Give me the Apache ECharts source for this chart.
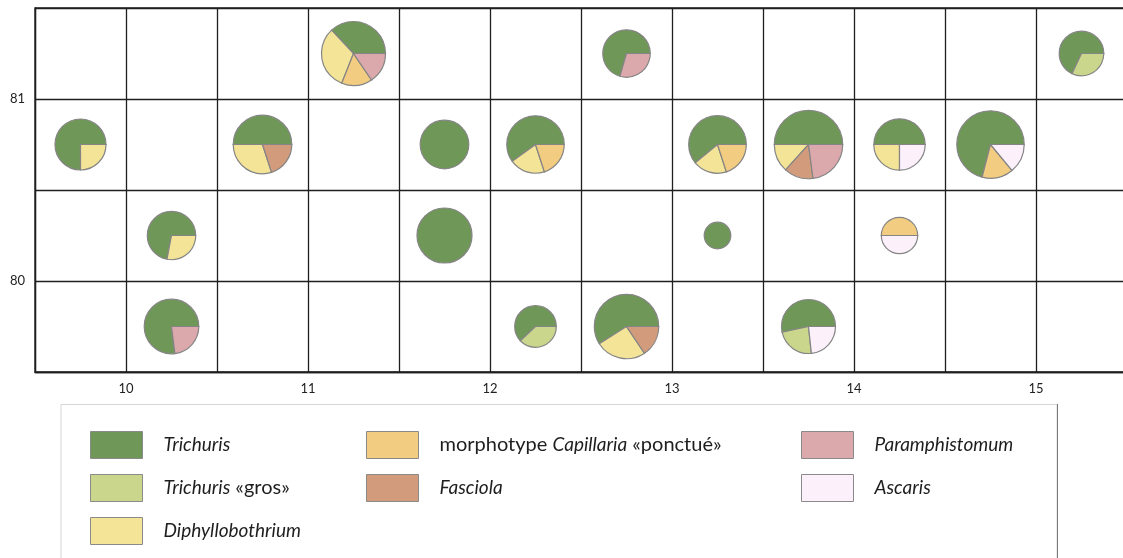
<!DOCTYPE html>
<html><head><meta charset="utf-8">
<script src="https://cdn.jsdelivr.net/npm/echarts@6/dist/echarts.min.js"></script>
<style>html,body{margin:0;padding:0;background:#fff}#c{width:1123px;height:558px}</style>
</head><body><div id="c"></div>
<script>
// cell centres (x, y) of each pie
const cellX = [9.75, 10.75, 11.25, 11.75, 12.25, 12.75, 13.25, 13.75, 14.25, 14.75, 15.25, 10.25, 10.25, 11.75, 12.25, 12.75, 13.25, 14.25, 13.75];
const cellY = [80.75, 80.75, 81.25, 80.75, 80.75, 81.25, 80.75, 80.75, 80.75, 80.75, 81.25, 80.25, 79.75, 80.25, 79.75, 79.75, 80.25, 80.25, 79.75];
// relative abundance (pie area)
const total = [3.68, 4.85, 5.79, 3.34, 4.66, 3.18, 4.69, 6.61, 3.73, 6.42, 2.81, 3.31, 4.21, 4.28, 2.45, 5.86, 1.0, 1.87, 4.12];
// species shares (%) per cell
const species = ['Trichuris', 'Trichuris «gros»', 'Diphyllobothrium', 'morphotype Capillaria «ponctué»', 'Fasciola', 'Paramphistomum', 'Ascaris'];
const trichuris      = [75, 50, 37, 100, 60, 70.5, 61, 50, 50, 71, 68, 72, 77, 100, 62, 59, 100, 0, 53.4];
const trichurisGros  = [0, 0, 0, 0, 0, 0, 0, 0, 0, 0, 32, 0, 0, 0, 38, 0, 0, 0, 23.3];
const diphyllo       = [25, 30, 32, 0, 20, 0, 19, 13.3, 25, 0, 0, 28, 0, 0, 0, 25.4, 0, 0, 0];
const capillaria     = [0, 0, 15.5, 0, 20, 0, 20, 0, 0, 15, 0, 0, 0, 0, 0, 0, 0, 50, 0];
const fasciola       = [0, 20, 0, 0, 0, 0, 0, 13.8, 0, 0, 0, 0, 0, 0, 0, 15.6, 0, 0, 0];
const paramphistomum = [0, 0, 15.5, 0, 0, 29.5, 0, 22.9, 0, 0, 0, 0, 23, 0, 0, 0, 0, 0, 0];
const ascaris        = [0, 0, 0, 0, 0, 0, 0, 0, 25, 14, 0, 0, 0, 0, 0, 0, 0, 50, 23.3];
const xTicks = [10, 11, 12, 13, 14, 15];
const yTicks = [80, 81];

const shares = [trichuris, trichurisGros, diphyllo, capillaria, fasciola, paramphistomum, ascaris];
const colors = ['#6f9757', '#c9d68c', '#f3e497', '#f2cc80', '#d29c7c', '#dba8ab', '#fcf0fb'];
const labelFmt = {
  'Trichuris': '{i|Trichuris}',
  'Trichuris «gros»': '{i|Trichuris} «gros»',
  'Diphyllobothrium': '{i|Diphyllobothrium}',
  'morphotype Capillaria «ponctué»': 'morphotype {i|Capillaria} «ponctué»',
  'Fasciola': '{i|Fasciola}',
  'Paramphistomum': '{i|Paramphistomum}',
  'Ascaris': '{i|Ascaris}'
};

const FONT = 'Lato';
const rUnit = 13.3;

// cumulative start/end per species per cell
const cellSum = cellX.map((_, i) => shares.reduce((a, s) => a + s[i], 0));
const seriesData = shares.map(() => []);
cellX.forEach((x, i) => {
  let acc = 0;
  shares.forEach((s, k) => {
    if (s[i] > 0) {
      const a0 = acc / cellSum[i], a1 = (acc + s[i]) / cellSum[i];
      seriesData[k].push([x, cellY[i], total[i], a0, a1]);
      acc += s[i];
    }
  });
});

const series = species.map((name, k) => ({
  type: 'custom',
  name: name,
  coordinateSystem: 'cartesian2d',
  encode: { x: 0, y: 1 },
  itemStyle: { color: colors[k], borderColor: '#888', borderWidth: 1 },
  data: seriesData[k],
  renderItem: function (params, api) {
    const c = api.coord([api.value(0), api.value(1)]);
    const r = rUnit * Math.sqrt(api.value(2));
    const a0 = api.value(3), a1 = api.value(4);
    return {
      type: 'sector',
      shape: { cx: c[0], cy: c[1], r0: 0, r: r, startAngle: -a0 * 2 * Math.PI, endAngle: -a1 * 2 * Math.PI, clockwise: false },
      style: { fill: colors[k], stroke: '#858585', lineWidth: 1.2 }
    };
  }
}));

const legendBase = {
  orient: 'vertical', icon: 'rect', itemWidth: 52, itemHeight: 27, itemGap: 15,
  padding: 0,
  itemStyle: { borderColor: '#8a8a8a', borderWidth: 1 },
  selectedMode: false,
  formatter: n => labelFmt[n],
  textStyle: {
    fontFamily: FONT, fontSize: 20, color: '#1e1e1e', padding: [0, 0, 0, 16],
    rich: { i: { fontFamily: FONT, fontSize: 19, fontStyle: 'italic', color: '#1e1e1e' } }
  }
};

const chart = echarts.init(document.getElementById('c'), null, { renderer: 'canvas' });
chart.setOption({
  backgroundColor: '#fff',
  animation: false,
  grid: { left: 35, top: 8, width: 1092, height: 364, outerBoundsMode: 'none', show: true, borderColor: '#1f1f1f', borderWidth: 1.3, containLabel: false },
  xAxis: {
    type: 'value', min: 9.5, max: 15.5, interval: 0.5,
    axisLine: { show: true, lineStyle: { color: '#1f1f1f', width: 1.3 } },
    axisTick: { show: false },
    splitLine: { show: true, lineStyle: { color: '#1f1f1f', width: 1.3 } },
    axisLabel: { margin: 10, fontFamily: FONT, fontSize: 13, color: '#222',
      formatter: v => xTicks.indexOf(v) >= 0 ? String(v) : '' }
  },
  yAxis: {
    type: 'value', min: 79.5, max: 81.5, interval: 0.5,
    axisLine: { show: true, lineStyle: { color: '#1f1f1f', width: 1.3 } },
    axisTick: { show: false },
    splitLine: { show: true, lineStyle: { color: '#1f1f1f', width: 1.3 } },
    axisLabel: { margin: 10, fontFamily: FONT, fontSize: 13, color: '#222',
      formatter: v => yTicks.indexOf(v) >= 0 ? String(v) : '' }
  },
  graphic: [
    { type: 'rect', z: -1, shape: { x: 61, y: 404.5, width: 996, height: 170 }, style: { fill: '#fff', stroke: '#d6d6d6', lineWidth: 1 } },
    { type: 'line', z: 0, shape: { x1: 1057.5, y1: 404, x2: 1057.5, y2: 560 }, style: { stroke: '#7a7a7a', lineWidth: 1 } }
  ],
  legend: [
    Object.assign({}, legendBase, { left: 90, top: 431, data: species.slice(0, 3) }),
    Object.assign({}, legendBase, { left: 366, top: 431, data: species.slice(3, 5) }),
    Object.assign({}, legendBase, { left: 801, top: 431, data: species.slice(5, 7) })
  ],
  series: series
});
</script></body></html>
